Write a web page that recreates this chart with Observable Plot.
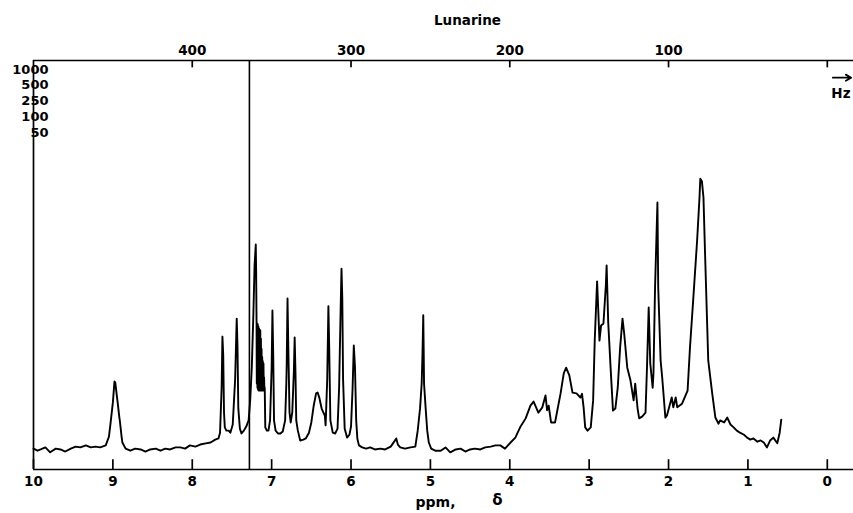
<!DOCTYPE html>
<html>
<head>
<meta charset="utf-8">
<script src="https://cdn.jsdelivr.net/npm/d3@7"></script>
<script src="https://cdn.jsdelivr.net/npm/@observablehq/plot@0.6"></script>
<style>
  html, body { margin: 0; padding: 0; background: #fff; }
</style>
</head>
<body>
<div id="chart"></div>
<script>
// ---- Data ----
const title = "Lunarine";
const ppm = [
  10.00, 9.95, 9.91, 9.85, 9.79, 9.72, 9.66, 9.60, 9.53, 9.47, 9.41, 9.34, 9.28, 9.22, 9.16, 9.09,
  9.05, 9.03, 9.00, 8.98, 8.97, 8.95, 8.94, 8.92, 8.91, 8.89, 8.88, 8.84, 8.78, 8.72, 8.65, 8.59,
  8.53, 8.46, 8.40, 8.34, 8.28, 8.21, 8.15, 8.09, 8.03, 7.96, 7.90, 7.83, 7.77, 7.71, 7.67, 7.65,
  7.63, 7.62, 7.61, 7.60, 7.59, 7.57, 7.54, 7.52, 7.49, 7.46, 7.44, 7.43, 7.42, 7.40, 7.38, 7.35,
  7.32, 7.29, 7.27, 7.25, 7.23, 7.215, 7.20, 7.195, 7.19, 7.187, 7.183, 7.179, 7.175, 7.171, 7.167, 7.163,
  7.159, 7.155, 7.151, 7.147, 7.143, 7.139, 7.135, 7.131, 7.127, 7.123, 7.119, 7.115, 7.111, 7.107, 7.103, 7.099,
  7.095, 7.091, 7.087, 7.08, 7.06, 7.04, 7.02, 7.00, 6.99, 6.98, 6.97, 6.95, 6.92, 6.89, 6.86, 6.83,
  6.815, 6.81, 6.80, 6.79, 6.775, 6.76, 6.74, 6.72, 6.71, 6.70, 6.69, 6.67, 6.64, 6.60, 6.57, 6.53,
  6.50, 6.47, 6.44, 6.42, 6.40, 6.37, 6.35, 6.33, 6.32, 6.30, 6.285, 6.275, 6.26, 6.23, 6.20, 6.17,
  6.15, 6.13, 6.12, 6.11, 6.10, 6.08, 6.05, 6.02, 6.00, 5.98, 5.965, 5.95, 5.935, 5.92, 5.90, 5.86,
  5.81, 5.76, 5.70, 5.63, 5.57, 5.50, 5.45, 5.43, 5.41, 5.38, 5.32, 5.25, 5.19, 5.16, 5.13, 5.11,
  5.10, 5.09, 5.085, 5.08, 5.06, 5.04, 5.02, 4.99, 4.94, 4.87, 4.81, 4.75, 4.68, 4.62, 4.56, 4.50,
  4.44, 4.37, 4.31, 4.24, 4.18, 4.12, 4.06, 3.99, 3.93, 3.87, 3.80, 3.74, 3.70, 3.64, 3.59, 3.55,
  3.53, 3.51, 3.48, 3.43, 3.36, 3.32, 3.29, 3.25, 3.21, 3.16, 3.11, 3.09, 3.07, 3.05, 3.02, 2.98,
  2.95, 2.93, 2.90, 2.87, 2.85, 2.82, 2.79, 2.78, 2.76, 2.73, 2.70, 2.67, 2.64, 2.61, 2.58, 2.56,
  2.52, 2.48, 2.44, 2.42, 2.39, 2.37, 2.33, 2.29, 2.27, 2.25, 2.23, 2.20, 2.19, 2.17, 2.14, 2.13,
  2.10, 2.08, 2.04, 2.02, 1.96, 1.94, 1.91, 1.89, 1.83, 1.76, 1.73, 1.69, 1.64, 1.61, 1.60, 1.58,
  1.56, 1.54, 1.50, 1.45, 1.41, 1.37, 1.35, 1.30, 1.26, 1.22, 1.18, 1.14, 1.10, 1.05, 1.01, 0.97,
  0.93, 0.88, 0.84, 0.80, 0.76, 0.72, 0.68, 0.63, 0.60, 0.58
];
const intensity = [
  5.1, 4.6, 4.9, 5.4, 4.2, 5.1, 4.9, 4.4, 5.1, 5.6, 5.4, 5.9, 5.4, 5.6, 5.4, 5.9,
  8.0, 11.2, 16.4, 21.5, 21.3, 18.0, 16.4, 13.0, 11.5, 8.0, 6.6, 5.1, 4.6, 5.1, 4.9, 4.4,
  4.9, 5.1, 4.6, 5.1, 4.9, 5.4, 5.4, 5.1, 5.9, 5.6, 6.1, 6.4, 6.6, 7.3, 7.6, 9.0,
  20.0, 32.5, 28.0, 14.0, 10.3, 9.5, 9.5, 9.0, 11.0, 22.0, 36.9, 30.0, 15.0, 10.0, 8.8, 9.5,
  10.5, 12.0, 17.0, 25.0, 38.0, 50.0, 55.0, 48.0, 35.7, 21.0, 35.7, 20.0, 35.5, 19.5, 35.0, 19.3,
  34.5, 19.5, 34.2, 19.3, 34.0, 19.3, 32.0, 19.3, 29.5, 19.5, 27.5, 19.3, 26.5, 19.5, 25.9, 19.3,
  22.5, 19.3, 20.0, 10.3, 9.5, 9.5, 12.0, 25.0, 38.9, 28.0, 12.0, 9.5, 8.8, 8.8, 9.3, 12.0,
  21.0, 25.9, 41.8, 30.0, 14.0, 11.5, 14.0, 24.0, 32.3, 24.0, 12.0, 9.5, 7.1, 7.3, 7.6, 9.0,
  11.5, 15.6, 18.6, 18.8, 17.6, 14.9, 14.0, 13.2, 10.8, 22.0, 39.9, 30.0, 12.0, 9.0, 8.8, 10.0,
  20.0, 40.0, 49.1, 42.0, 22.0, 10.0, 7.8, 8.5, 10.5, 20.0, 30.3, 25.0, 12.0, 7.5, 5.9, 5.4,
  5.1, 5.4, 4.9, 5.1, 4.9, 5.6, 7.0, 7.6, 6.1, 5.4, 5.1, 5.4, 5.6, 9.5, 15.0, 21.0,
  28.0, 37.7, 30.0, 21.0, 15.0, 9.5, 6.6, 5.1, 4.6, 4.6, 5.4, 4.2, 4.9, 5.1, 4.4, 4.9,
  5.1, 4.9, 5.4, 5.6, 5.9, 5.9, 5.1, 6.6, 7.8, 10.3, 12.5, 15.6, 16.6, 13.9, 15.2, 18.1,
  14.5, 15.6, 11.5, 11.5, 18.6, 23.5, 24.9, 23.0, 18.8, 18.6, 17.6, 18.5, 15.2, 10.3, 9.5, 10.3,
  16.9, 31.5, 46.0, 31.5, 35.2, 35.7, 45.0, 49.9, 36.0, 24.9, 14.4, 14.9, 20.0, 29.8, 36.9, 33.5,
  24.9, 21.8, 16.9, 21.0, 14.9, 12.5, 13.0, 13.9, 25.9, 39.6, 25.9, 20.0, 23.5, 44.5, 65.3, 44.5,
  26.7, 22.5, 12.7, 13.2, 17.6, 15.2, 17.6, 15.2, 16.1, 19.3, 29.8, 41.3, 56.0, 66.5, 71.1, 70.5,
  66.5, 52.8, 26.7, 18.6, 12.7, 11.2, 12.0, 11.5, 12.7, 11.0, 10.3, 9.5, 9.0, 8.5, 7.8, 7.3,
  7.6, 6.8, 7.1, 6.6, 5.4, 7.1, 7.8, 6.4, 9.0, 12.2
];
const ppmTicks = [10, 9, 8, 7, 6, 5, 4, 3, 2, 1, 0];
const hzTicks = [400, 300, 200, 100, 0];
const hzLabels = [400, 300, 200, 100];
const hzPerPpm = 50;
const sweepWidths = ["1000", "500", "250", "100", "50"];
const solventPpm = [7.28];
const axisLabel = ["ppm,", "δ"];
const hzArrow = [{x1: -0.07, x2: -0.30, y: 95.8}];

const spectrum = ppm.map((p, i) => ({ppm: p, intensity: intensity[i]}));

const font = "DejaVu Sans";
const fs = 13.5;
const fw = "bold";

const sweepMarks = sweepWidths.map((s, i) =>
  Plot.text([s], {
    frameAnchor: "top-left", textAnchor: "end", lineAnchor: "middle",
    dx: 15, dy: 9 + i * 15.75, text: d => d, fontSize: 13, fontWeight: fw, fill: "black"
  })
);

const chart = Plot.plot({
  width: 853,
  height: 513,
  marginLeft: 33,
  marginRight: 0,
  marginTop: 60,
  marginBottom: 44,
  style: {fontFamily: font, background: "white", color: "black"},
  x: {domain: [10, -0.33], axis: null},
  y: {domain: [0, 100], axis: null},
  marks: [
    Plot.ruleY([0, 100], {stroke: "black", strokeWidth: 1.7}),
    Plot.ruleX([10], {stroke: "black", strokeWidth: 1.7}),
    Plot.ruleX(solventPpm, {stroke: "black", strokeWidth: 1.6}),
    Plot.ruleX(ppmTicks, {x: d => d, y1: 0, y2: 2.4, stroke: "black", strokeWidth: 1.7}),
    Plot.ruleX(hzTicks, {x: d => d / hzPerPpm, y1: 100, y2: 98.2, stroke: "black", strokeWidth: 1.7}),
    Plot.text(ppmTicks, {x: d => d, frameAnchor: "bottom", lineAnchor: "top", dy: 7,
      text: d => String(d), fontSize: fs, fontWeight: fw, fill: "black"}),
    Plot.text(hzLabels, {x: d => d / hzPerPpm, frameAnchor: "top", lineAnchor: "bottom", dy: -6,
      text: d => String(d), fontSize: fs, fontWeight: fw, fill: "black"}),
    Plot.line(spectrum, {x: "ppm", y: "intensity", stroke: "black", strokeWidth: 1.9, strokeLinejoin: "round"}),
    Plot.text([title], {frameAnchor: "top", dx: 24, dy: -40, lineAnchor: "middle",
      text: d => d, fontSize: 13.5, fontWeight: fw, fill: "black"}),
    ...sweepMarks,
    Plot.text(["Hz"], {frameAnchor: "top-right", textAnchor: "end", lineAnchor: "middle",
      dx: -3, dy: 33, text: d => d, fontSize: 13.5, fontWeight: fw, fill: "black"}),
    Plot.arrow(hzArrow, {x1: "x1", x2: "x2", y1: "y", y2: "y", stroke: "black",
      strokeWidth: 1.8, headLength: 7}),
    Plot.text([axisLabel[0]], {frameAnchor: "bottom", lineAnchor: "middle", dx: -8, dy: 33,
      text: d => d, fontSize: 14, fontWeight: fw, fill: "black"}),
    Plot.text([axisLabel[1]], {frameAnchor: "bottom", lineAnchor: "middle", dx: 54, dy: 31,
      text: d => d, fontSize: 15, fontWeight: fw, fill: "black"})
  ]
});

document.getElementById("chart").appendChild(chart);
</script>
</body>
</html>
